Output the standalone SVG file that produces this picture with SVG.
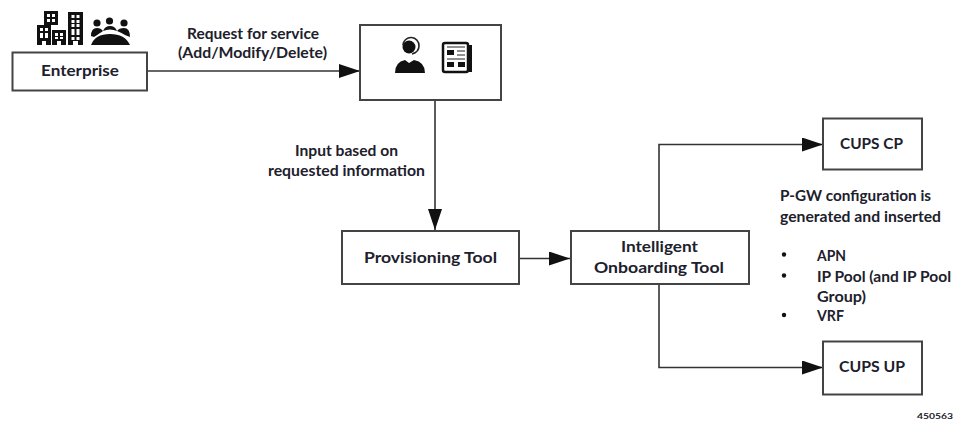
<svg xmlns="http://www.w3.org/2000/svg" width="953" height="421" viewBox="0 0 953 421">
<style>
.box{fill:#fff;stroke:#444;stroke-width:2}
.c{fill:none;stroke:#333;stroke-width:1.6}
text{font-family:"Lato","Liberation Sans",sans-serif;fill:#20202c;font-size:15px;font-weight:700}
.i{fill:#111}
.w{fill:#fff}
.ln{fill:none;stroke:#222;stroke-width:1.2}
</style>
<defs>
<marker id="a" markerUnits="userSpaceOnUse" markerWidth="21" markerHeight="14" refX="21" refY="7" orient="auto"><path d="M0 0L21 7L0 14z" fill="#111"/></marker>
<g id="win2"><rect width="3" height="3" class="w"/><rect x="5" width="3" height="3" class="w"/><rect y="5" width="3" height="3" class="w"/><rect x="5" y="5" width="3" height="3" class="w"/></g>
</defs>
<rect width="953" height="421" fill="#fff"/>
<g id="connectors">
<path class="c" d="M147 71H360" marker-end="url(#a)"/>
<path class="c" d="M435 100V230" marker-end="url(#a)"/>
<path class="c" d="M519 258.500H570" marker-end="url(#a)"/>
<path class="c" d="M659 231V144.500H823" marker-end="url(#a)"/>
<path class="c" d="M659 284V367.500H823" marker-end="url(#a)"/>
</g>
<g id="enterprise-icons">
<rect class="i" x="44" y="11" width="14" height="14"/><use href="#win2" x="47" y="14"/>
<path class="i" d="M37 25H51V45H46V41H42V45H37z"/><use href="#win2" x="40" y="28"/><rect class="w" x="40" y="35" width="3" height="3"/><rect class="w" x="45" y="35" width="3" height="3"/>
<path class="i" d="M52 30H66V45H61V41H57V45H52z"/><rect class="w" x="55" y="33" width="3" height="3"/><rect class="w" x="60" y="33" width="3" height="3"/><rect class="w" x="55" y="37" width="3" height="2"/><rect class="w" x="60" y="37" width="3" height="2"/>
<path class="i" d="M68 12H83V45H78V41H73V45H68z"/><use href="#win2" x="71.500" y="15"/><use href="#win2" x="71.500" y="24"/><use href="#win2" x="71.500" y="32"/>
<circle class="i" cx="97" cy="23" r="3.600"/><circle class="i" cx="109.500" cy="21" r="3.600"/><circle class="i" cx="124" cy="23" r="3.600"/>
<path class="i" d="M91 36Q91 28 97 28Q101 28 103 31Q100 33 94 37zM103 31Q105 26 110 26Q115 26 117 31Q110 28 103 31zM117 31Q119 28 124 28Q130 28 130 37L125 35Q122 33 117 31z"/>
<path class="i" d="M91 45Q95 34 110 34Q125 34 130 45z"/>
</g>
<g id="enterprise"><rect class="box" x="12.500" y="52.500" width="134.500" height="38"/><text x="41" y="76" textLength="78" lengthAdjust="spacingAndGlyphs">Enterprise</text></g>
<g id="service"><rect class="box" x="360" y="25" width="141" height="75"/>
<circle class="i" cx="409" cy="47" r="6.500"/><path class="ln" d="M403 45A8 8 0 0 1 419 46Q419 52 412 54" style="stroke-width:1.600"/><path class="i" d="M395 73Q395 62 405 60L409 63L414 60Q425 62 425 73z"/>
<rect x="443" y="43" width="25" height="29" rx="2" fill="#fff" stroke="#111" stroke-width="2.500"/><rect class="i" x="469" y="45" width="3" height="27"/>
<rect class="i" x="447" y="50" width="7" height="5"/><rect class="i" x="447" y="62" width="7" height="5"/><rect class="i" x="458" y="62" width="7" height="5"/><path class="ln" d="M447 47H465M457 51H465M457 55H465M447 59H465"/>
</g>
<g id="provisioning"><rect class="box" x="342" y="231" width="177" height="53"/><text x="364" y="263" textLength="133" lengthAdjust="spacingAndGlyphs">Provisioning Tool</text></g>
<g id="onboarding"><rect class="box" x="571" y="231" width="178" height="53"/><text x="621" y="252" textLength="77" lengthAdjust="spacingAndGlyphs">Intelligent</text><text x="594" y="273" textLength="130" lengthAdjust="spacingAndGlyphs">Onboarding Tool</text></g>
<g id="cups-cp"><rect class="box" x="823" y="118.500" width="99" height="51"/><text x="840" y="149" textLength="63" lengthAdjust="spacingAndGlyphs">CUPS CP</text></g>
<g id="cups-up"><rect class="box" x="823" y="341.500" width="99" height="53"/><text x="839" y="372" textLength="66" lengthAdjust="spacingAndGlyphs">CUPS UP</text></g>
<g id="labels">
<text x="187" y="39" textLength="132" lengthAdjust="spacingAndGlyphs">Request for service</text>
<text x="178" y="58" textLength="149" lengthAdjust="spacingAndGlyphs">(Add/Modify/Delete)</text>
<text x="295" y="156" textLength="103" lengthAdjust="spacingAndGlyphs">Input based on</text>
<text x="268" y="176" textLength="157" lengthAdjust="spacingAndGlyphs">requested information</text>
<text x="780" y="201" textLength="151" lengthAdjust="spacingAndGlyphs">P-GW configuration is</text>
<text x="780" y="222" textLength="161" lengthAdjust="spacingAndGlyphs">generated and inserted</text>
<circle class="i" cx="784" cy="254.500" r="2.200"/><text x="817" y="261" textLength="29" lengthAdjust="spacingAndGlyphs">APN</text>
<circle class="i" cx="784" cy="275.500" r="2.200"/><text x="817" y="282" textLength="134" lengthAdjust="spacingAndGlyphs">IP Pool (and IP Pool</text>
<text x="817" y="302" textLength="49" lengthAdjust="spacingAndGlyphs">Group)</text>
<circle class="i" cx="784" cy="315" r="2.200"/><text x="817" y="321" textLength="27" lengthAdjust="spacingAndGlyphs">VRF</text>
<text x="917" y="419" textLength="36" lengthAdjust="spacingAndGlyphs" style="font-size:8px">450563</text>
</g>
</svg>
